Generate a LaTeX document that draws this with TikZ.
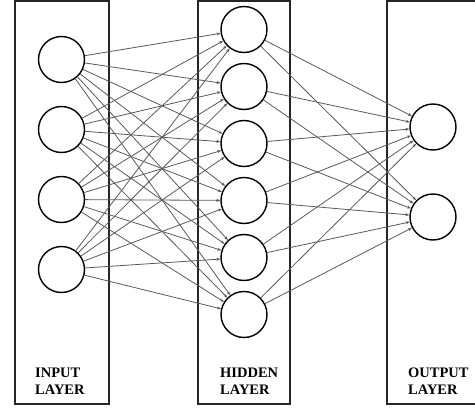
\documentclass[tikz,border=0pt]{standalone}
\usepackage{fontspec}
\setmainfont{Liberation Serif}
\usetikzlibrary{arrows.meta}

\tikzset{
  neuron/.style={circle,draw=black,line width=1.4pt,minimum size=46pt,inner sep=0pt},
  layerbox/.style={draw=black!85,line width=2.4pt},
  synapse/.style={draw=black!65,line width=0.8pt,-{Stealth[length=4pt,width=3pt]}},
  layername/.style={font=\fontsize{14.5}{17}\selectfont\bfseries,align=left,inner sep=0pt,anchor=west}
}

\begin{document}
\begin{tikzpicture}[x=1pt,y=-1pt]
  \useasboundingbox (0,0) rectangle (475,410);
  \clip (0,0) rectangle (475,410);

  % layer boxes
  \draw[layerbox] (15,1) rectangle (109,404);
  \draw[layerbox] (198,1) rectangle (290,404);
  \draw[layerbox] (387,1) rectangle (495,404);

  % neurons
  \foreach \i/\y in {1/59.5,2/129.5,3/199.5,4/269.5}
    \node[neuron] (in\i) at (61.5,\y) {};
  \foreach \i/\y in {1/29.5,2/86.5,3/143.5,4/200.5,5/257.5,6/314.5}
    \node[neuron] (hid\i) at (244,\y) {};
  \foreach \i/\y in {1/127,2/217}
    \node[neuron] (out\i) at (433,\y) {};

  % connections
  \foreach \i in {1,...,4}
    \foreach \j in {1,...,6}
      \draw[synapse] (in\i) -- (hid\j);
  \foreach \j in {1,...,6}
    \foreach \k in {1,2}
      \draw[synapse] (hid\j) -- (out\k);

  % labels
  \node[layername] (inlabel) at (35,381.5) {INPUT\\LAYER};
  \node[layername] (hidlabel) at (220,381.5) {HIDDEN\\LAYER};
  \node[layername] (outlabel) at (408,381.5) {OUTPUT\\LAYER};
\end{tikzpicture}
\end{document}
